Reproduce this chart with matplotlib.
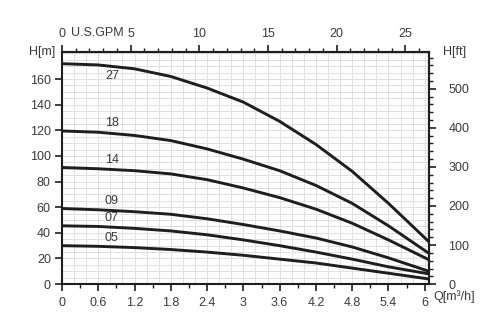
import numpy as np
import matplotlib
matplotlib.use("Agg")
import matplotlib.pyplot as plt
from matplotlib.ticker import MultipleLocator, FixedLocator

plt.rcParams['font.family'] = ['Liberation Sans', 'DejaVu Sans']

# flow rate Q [m3/h] and head H [m] for each pump model
q = [0, 0.6, 1.2, 1.8, 2.4, 3.0, 3.6, 4.2, 4.8, 5.4, 6.07]
h27 = [172, 171, 168, 162, 153, 142, 127, 109, 88, 63, 33]
h18 = [119.5, 118.5, 116, 112, 105.5, 97.5, 88.5, 77, 63, 45.5, 24]
h14 = [91, 90, 88.5, 86, 81.5, 75, 67.5, 58.5, 47.5, 34.5, 19]
h09 = [59, 58, 56.5, 54.5, 51, 46.5, 41.5, 36, 29, 20.5, 10]
h07 = [45.5, 45, 43.5, 41.5, 38.5, 34.5, 30, 25, 19.5, 13.5, 8]
h05 = [30, 29.5, 28.5, 27, 25, 22.5, 19.5, 16.5, 12.5, 8.5, 4]

models = ["27", "18", "14", "09", "07", "05"]
curves = [h27, h18, h14, h09, h07, h05]

q_ticks = [0, 0.6, 1.2, 1.8, 2.4, 3.0, 3.6, 4.2, 4.8, 5.4, 6.0]
q_labels = ['0', '0.6', '1.2', '1.8', '2.4', '3', '3.6', '4.2', '4.8', '5.4', '6']
h_ticks = [0, 20, 40, 60, 80, 100, 120, 140, 160]
gpm_ticks = [0, 5, 10, 15, 20, 25]
ft_ticks = [0, 100, 200, 300, 400, 500]

GPM = 4.4029   # US gallons per minute in 1 m3/h
FT = 3.28084   # feet in 1 metre

txt = '#3a3a3a'
ink = '#1e1e1e'
fs = 9

fig = plt.figure(figsize=(4.9, 3.3), dpi=100)
ax = fig.add_axes([0.1265, 0.139, 0.749, 0.703])

for name, hh in zip(models, curves):
    ax.plot(q, hh, color=ink, lw=2.1, solid_capstyle='butt',
            solid_joinstyle='round', zorder=3)
    if name == "27":
        ax.text(0.71, hh[0] - 5, name, fontsize=fs, color=txt,
                ha='left', va='top', zorder=4)
    else:
        ax.text(0.71, hh[0] + 1.2, name, fontsize=fs, color=txt,
                ha='left', va='bottom', zorder=4)

ax.set_xlim(0, 6.07)
ax.set_ylim(0, 181)

ax.xaxis.set_major_locator(FixedLocator(q_ticks))
ax.set_xticklabels(q_labels)
ax.xaxis.set_minor_locator(FixedLocator(np.arange(0.3, 6.07, 0.6)))
ax.yaxis.set_major_locator(FixedLocator(h_ticks))

# fine background grid
for gx in np.arange(0.2, 6.07, 0.2):
    ax.axvline(gx, color='#e0e0e0', lw=0.7, zorder=0)
for gy in np.arange(5, 181, 5):
    ax.axhline(gy, color='#e0e0e0', lw=0.7, zorder=0)

for s in ax.spines.values():
    s.set_linewidth(1.5)
    s.set_color(ink)

ax.tick_params(axis='both', which='major', direction='out', length=5,
               width=1.2, color=ink, labelsize=fs, labelcolor=txt)
ax.tick_params(axis='x', which='minor', direction='out', length=3,
               width=1.0, color=ink)
ax.tick_params(axis='x', pad=4)
ax.tick_params(axis='y', pad=3)

# U.S. GPM scale on top
top = ax.secondary_xaxis('top', functions=(lambda x: x * GPM, lambda x: x / GPM))
top.xaxis.set_major_locator(FixedLocator(gpm_ticks))
top.xaxis.set_minor_locator(MultipleLocator(1))
top.tick_params(which='major', direction='out', length=5, width=1.2,
                color=ink, labelsize=fs, labelcolor=txt, pad=4)
top.tick_params(which='minor', direction='out', length=3, width=1.0,
                color=ink)
top.spines['top'].set_linewidth(1.5)
top.spines['top'].set_color(ink)

# head in feet on the right
right = ax.secondary_yaxis('right', functions=(lambda y: y * FT, lambda y: y / FT))
right.yaxis.set_major_locator(FixedLocator(ft_ticks))
right.yaxis.set_minor_locator(MultipleLocator(20))
right.tick_params(which='major', direction='out', length=5, width=1.2,
                  color=ink, labelsize=fs, labelcolor=txt, pad=9)
right.tick_params(which='minor', direction='out', length=3, width=1.0,
                  color=ink)
right.spines['right'].set_linewidth(1.5)
right.spines['right'].set_color(ink)

fig.text(0.113, 0.842, 'H[m]', fontsize=fs, color=txt, ha='right', va='center')
fig.text(0.905, 0.842, 'H[ft]', fontsize=fs, color=txt, ha='left', va='center')
fig.text(0.884, 0.1, 'Q[m³/h]', fontsize=fs, color=txt, ha='left', va='center')
fig.text(0.145, 0.9, 'U.S.GPM', fontsize=fs, color=txt, ha='left', va='center')

fig.savefig('out.png', dpi=100, facecolor='white')
